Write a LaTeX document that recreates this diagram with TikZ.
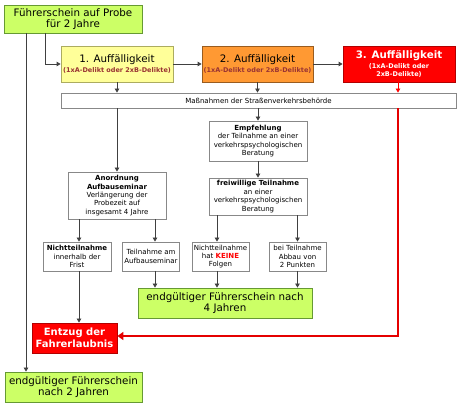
\documentclass[tikz,border=0pt]{standalone}
\usepackage{fontspec}
\setmainfont{DejaVu Sans}
\usepackage{xcolor}
\usepackage{tikz}
\usetikzlibrary{calc, positioning, arrows.meta}

\definecolor{probegreen}{HTML}{CCFF66}
\definecolor{probeborder}{HTML}{669933}
\definecolor{auffyellow}{HTML}{FFFF99}
\definecolor{aufforange}{HTML}{FF9933}
\definecolor{auffred}{HTML}{FF0000}
\definecolor{delikttext}{HTML}{993333}
\definecolor{linegray}{HTML}{404040}
\definecolor{boxgray}{HTML}{888888}

\newcommand{\bigtext}{\fontsize{10.3}{11.5}\selectfont}
\newcommand{\smalltext}{\fontsize{7}{8.4}\selectfont}
\newcommand{\delikttxt}{\fontsize{6.5}{8.4}\selectfont\bfseries}

\begin{document}
\begin{tikzpicture}[x=1pt,y=-1pt,line width=0.8pt,
                    main node/.style={draw=boxgray,fill=white,rectangle,align=center,inner sep=1pt,font=\smalltext},
                    green node/.style={main node,draw=probeborder,fill=probegreen,font=\bigtext},
                    red node/.style={main node,draw=red!70!black,fill=auffred,text=white,font=\bigtext\bfseries},
                    arrow/.style={draw=linegray,-{Triangle[length=4pt,width=4.5pt]}},
                    red arrow/.style={draw=auffred,-{Triangle[length=4pt,width=4.5pt]}},
                    big red arrow/.style={draw=auffred!90!black,line width=1.6pt,-{Triangle[length=6pt,width=8pt]}}]
\useasboundingbox (0,0) rectangle (459,406);

%Probezeit
  \node[green node,minimum width=138,minimum height=28] (Probe) at (73,19) {Führerschein auf Probe\\für 2 Jahre};

%Auffaelligkeiten
  \node[main node,draw=boxgray!70!yellow,fill=auffyellow,minimum width=112,minimum height=36] (Auff1) at (117,64)
       {\bigtext 1. Auffälligkeit\\[1pt]\delikttxt\color{delikttext}(1xA-Delikt oder 2xB-Delikte)};
  \node[main node,draw=aufforange!60!black,fill=aufforange,minimum width=111,minimum height=36] (Auff2) at (257.5,64)
       {\bigtext 2. Auffälligkeit\\[1pt]\delikttxt\color{delikttext}(1xA-Delikt oder 2xB-Delikte)};
  \node[red node,minimum width=112,minimum height=36] (Auff3) at (399,64)
       {3. Auffälligkeit\\[-1.5pt]\delikttxt (1xA-Delikt oder\\[-3pt]\delikttxt 2xB-Delikte)};

  \node[main node,minimum width=395,minimum height=15] (Massnahmen) at (258.5,100.5) {Maßnahmen der Straßenverkehrsbehörde};

%Middle boxes
  \node[main node,minimum width=98,minimum height=40] (Empfehlung) at (258,141)
       {\textbf{Empfehlung}\\der Teilnahme an einer\\verkehrspsychologischen\\Beratung};
  \node[main node,minimum width=98,minimum height=47] (Anordnung) at (117,195.5)
       {\textbf{Anordnung}\\\textbf{Aufbauseminar}\\Verlängerung der\\Probezeit auf\\insgesamt 4 Jahre};
  \node[main node,minimum width=98,minimum height=37] (Freiwillig) at (258,196.5)
       {\textbf{freiwillige Teilnahme}\\an einer\\verkehrspsychologischen\\Beratung};

%Outcomes
  \node[main node,minimum width=68,minimum height=29] (Nicht) at (77,256.5) {\textbf{Nichtteilnahme}\\innerhalb der\\Frist};
  \node[main node,minimum width=57,minimum height=29] (Teil) at (151,256.5) {Teilnahme am\\Aufbauseminar};
  \node[main node,minimum width=57,minimum height=29] (Keine) at (220.5,256.5) {Nichtteilnahme\\hat \textcolor{auffred}{\textbf{KEINE}}\\Folgen};
  \node[main node,minimum width=57,minimum height=29] (Abbau) at (297.5,256.5) {bei Teilnahme\\Abbau von\\2 Punkten};

  \node[green node,minimum width=174,minimum height=30] (End4) at (225,303) {endgültiger Führerschein nach\\4 Jahren};
  \node[red node,font=\fontsize{10}{12}\selectfont\bfseries,minimum width=85,minimum height=30] (Entzug) at (74.5,338) {Entzug der\\Fahrerlaubnis};
  \node[green node,minimum width=137,minimum height=30] (End2) at (73.5,387) {endgültiger Führerschein\\nach 2 Jahren};

%Connections
  \draw[arrow] ([xshift=-47pt]Probe.south) -- ([xshift=-47pt]Probe.south |- End2.north);
  \draw[arrow] ([xshift=-28pt]Probe.south) |- (Auff1.west);
  \draw[arrow] (Auff1.east) -- (Auff2.west);
  \draw[arrow] (Auff2.east) -- (Auff3.west);

  \draw[arrow] (Auff1.south) -- (Auff1.south |- Massnahmen.north);
  \draw[arrow] (Auff2.south) -- (Auff2.south |- Massnahmen.north);
  \draw[red arrow] ([xshift=-1pt]Auff3.south) -- ([xshift=-1pt]Auff3.south |- Massnahmen.north);

  \draw[arrow] (Anordnung.north |- Massnahmen.south) -- (Anordnung.north);
  \draw[arrow] (Empfehlung.north |- Massnahmen.south) -- (Empfehlung.north);
  \draw[arrow] (Empfehlung.south) -- (Freiwillig.north);

  \draw[arrow] ([xshift=2pt]Nicht.north |- Anordnung.south) -- ([xshift=2pt]Nicht.north);
  \draw[arrow] ([xshift=4pt]Teil.north |- Anordnung.south) -- ([xshift=4pt]Teil.north);
  \draw[arrow] ([xshift=-3.5pt]Keine.north |- Freiwillig.south) -- ([xshift=-3.5pt]Keine.north);
  \draw[arrow] (Abbau.north |- Freiwillig.south) -- (Abbau.north);

  \draw[arrow] ([xshift=4pt]Teil.south) -- ([xshift=4pt]Teil.south |- End4.north);
  \draw[arrow] ([xshift=-3.5pt]Keine.south) -- ([xshift=-3.5pt]Keine.south |- End4.north);
  \draw[arrow] (Abbau.south) -- (Abbau.south |- End4.north);
  \draw[arrow] ([xshift=2pt]Nicht.south) -- ([xshift=2pt]Nicht.south |- Entzug.north);

  \draw[big red arrow] ([xshift=-1pt]Auff3.south |- Massnahmen.south) |- ([yshift=2pt]Entzug.east);

\end{tikzpicture}
\end{document}
